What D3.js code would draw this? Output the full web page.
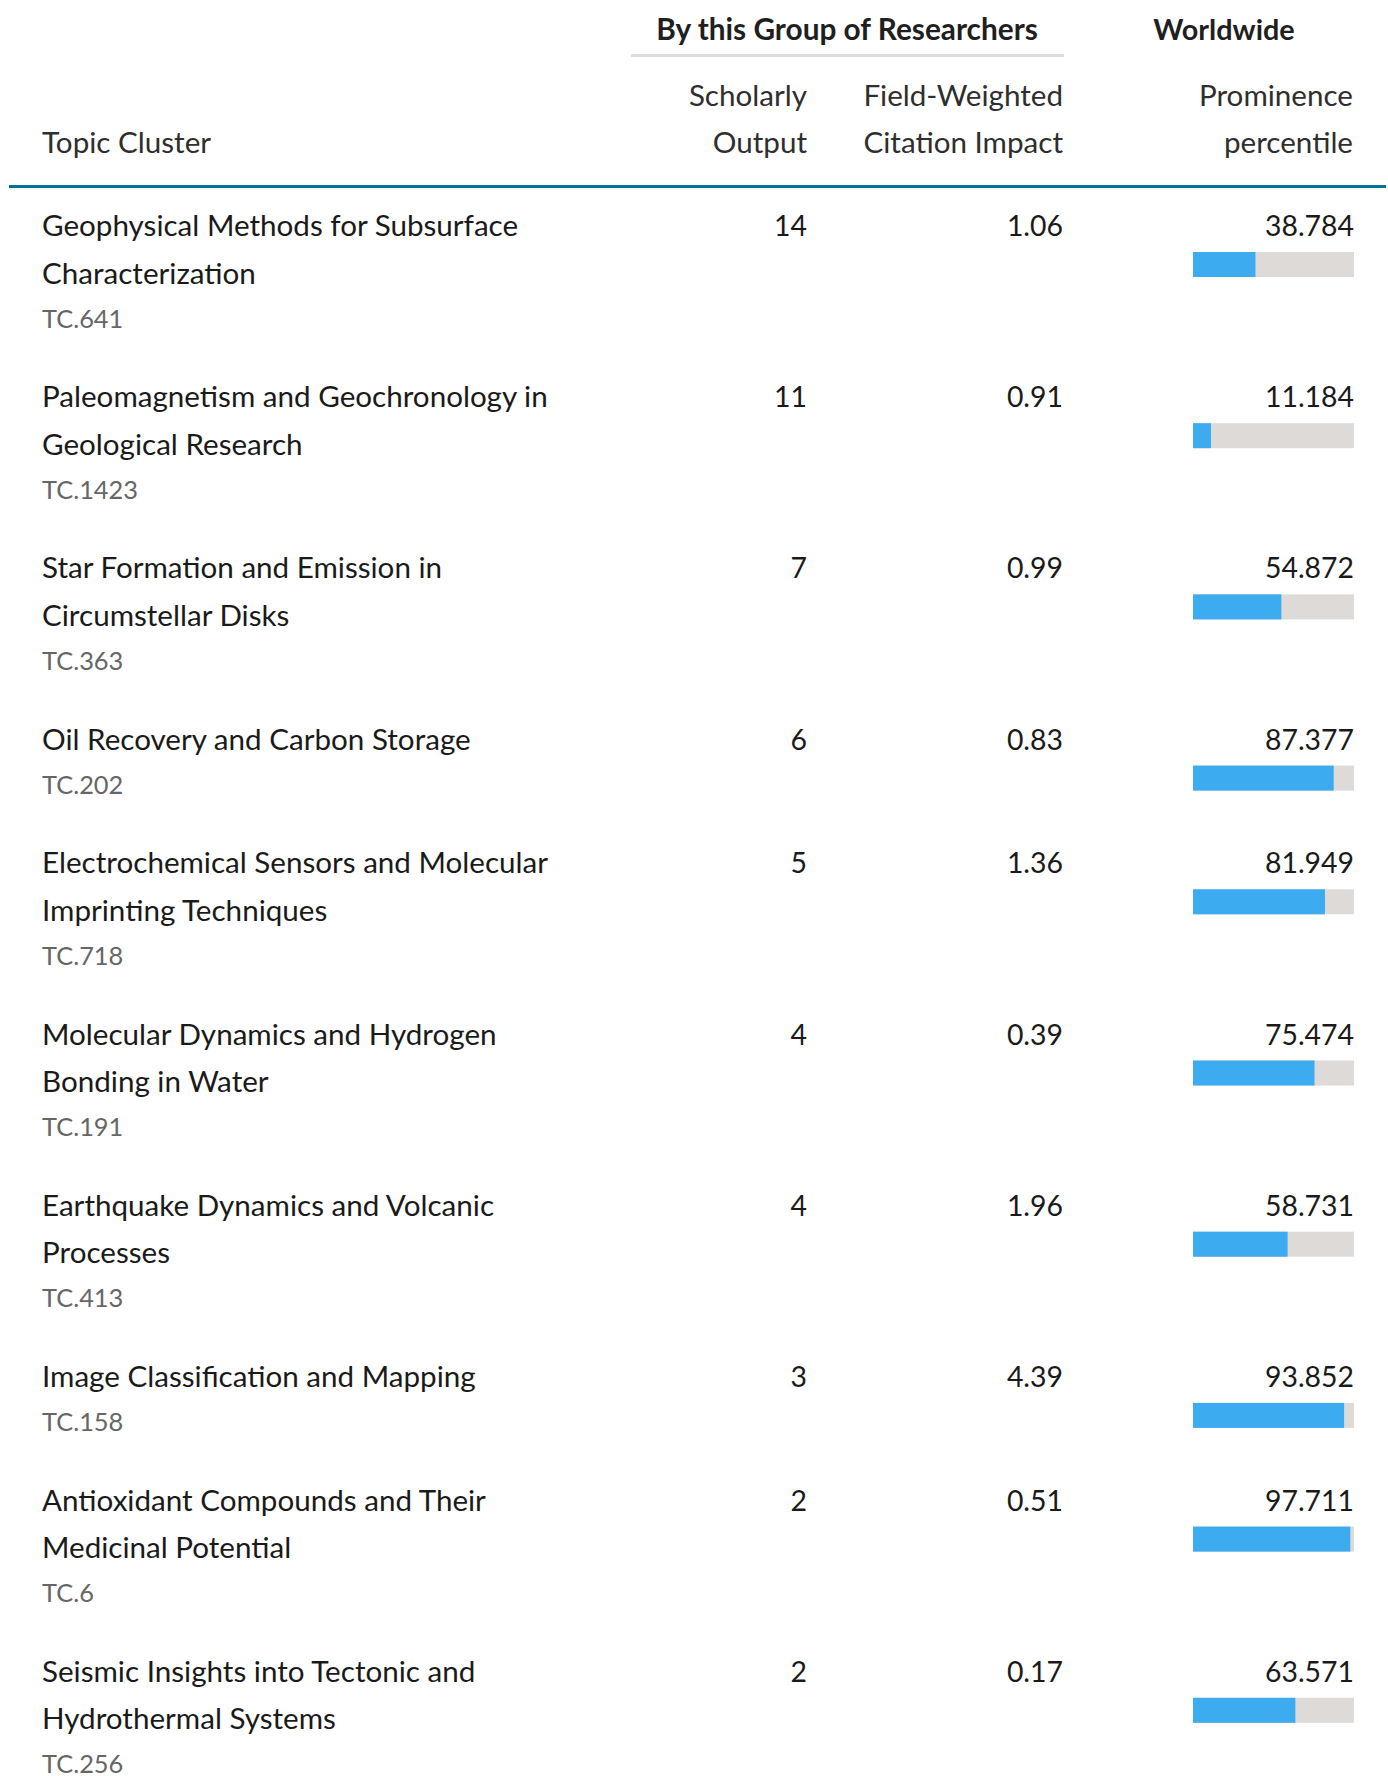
<!DOCTYPE html>
<html>
<head>
<meta charset="utf-8">
<script src="https://cdn.jsdelivr.net/npm/d3@7"></script>
<style>
  html, body { margin: 0; padding: 0; background: #fff; }
  svg { display: block; }
  text { font-family: Lato, "Open Sans", sans-serif; }
</style>
</head>
<body>
<svg id="chart" width="1388" height="1776"></svg>
<script>
const topics = [
  "Geophysical Methods for Subsurface Characterization",
  "Paleomagnetism and Geochronology in Geological Research",
  "Star Formation and Emission in Circumstellar Disks",
  "Oil Recovery and Carbon Storage",
  "Electrochemical Sensors and Molecular Imprinting Techniques",
  "Molecular Dynamics and Hydrogen Bonding in Water",
  "Earthquake Dynamics and Volcanic Processes",
  "Image Classification and Mapping",
  "Antioxidant Compounds and Their Medicinal Potential",
  "Seismic Insights into Tectonic and Hydrothermal Systems"
];
const tcCodes = ["TC.641", "TC.1423", "TC.363", "TC.202", "TC.718", "TC.191", "TC.413", "TC.158", "TC.6", "TC.256"];
const scholarlyOutput = [14, 11, 7, 6, 5, 4, 4, 3, 2, 2];
const fwci = [1.06, 0.91, 0.99, 0.83, 1.36, 0.39, 1.96, 4.39, 0.51, 0.17];
const percentile = [38.784, 11.184, 54.872, 87.377, 81.949, 75.474, 58.731, 93.852, 97.711, 63.571];

const groupHeader = "By this Group of Researchers";
const worldHeader = "Worldwide";
const colHeaders = {
  topic: ["Topic Cluster"],
  output: ["Scholarly", "Output"],
  fwci: ["Field-Weighted", "Citation Impact"],
  pct: ["Prominence", "percentile"]
};

const svg = d3.select("#chart");
const FS = 29.6, NFS = 28.4, TCFS = 25.4, HFS = 29.8, LH = 47.5;
const xTopic = 42, xOut = 807, xFwci = 1063, xPct = 1354;
const barX0 = 1193, barX1 = 1354, barH = 25;

// header
svg.append("text").attr("x", 847).attr("y", 40).attr("text-anchor", "middle")
  .attr("font-size", HFS).attr("font-weight", 700).attr("fill", "#1f1f1f").text(groupHeader);
svg.append("rect").attr("x", 631).attr("y", 54).attr("width", 433).attr("height", 3).attr("fill", "#dcdcdc");
svg.append("text").attr("x", 1224).attr("y", 40).attr("text-anchor", "middle")
  .attr("font-size", HFS - 1).attr("font-weight", 700).attr("fill", "#1f1f1f").text(worldHeader);

function headerLines(lines, x, anchor) {
  const start = 153 - (lines.length - 1) * LH;
  lines.forEach((l, i) => {
    svg.append("text").attr("x", x).attr("y", start + i * LH).attr("text-anchor", anchor)
      .attr("font-size", FS).attr("fill", "#2e2e2e").text(l);
  });
}
headerLines(colHeaders.topic, xTopic, "start");
headerLines(colHeaders.output, xOut, "end");
headerLines(colHeaders.fwci, xFwci, "end");
headerLines(colHeaders.pct, xPct - 1, "end");

svg.append("rect").attr("x", 9).attr("y", 185).attr("width", 1377).attr("height", 3).attr("fill", "#007398");

// wrap titles
const maxW = 535;
function wrap(str) {
  const words = str.split(" ");
  const t = svg.append("text").attr("font-size", FS).attr("x", -1000).attr("y", -1000);
  const lines = [];
  let cur = "";
  words.forEach(w => {
    const test = cur ? cur + " " + w : w;
    t.text(test);
    if (t.node().getComputedTextLength() > maxW && cur) { lines.push(cur); cur = w; }
    else cur = test;
  });
  if (cur) lines.push(cur);
  t.remove();
  return lines;
}

const xScale = d3.scaleLinear().domain([0, 100]).range([barX0, barX1]);
const fmt2 = d3.format(".2f"), fmt3 = d3.format(".3f");

let y = 236;
topics.forEach((topic, i) => {
  const lines = wrap(topic);
  const g = svg.append("g");
  lines.forEach((l, j) => {
    g.append("text").attr("x", xTopic).attr("y", y + j * LH).attr("font-size", FS)
      .attr("fill", "#1a1a1a").text(l);
  });
  g.append("text").attr("x", xTopic).attr("y", y + (lines.length - 1) * LH + 44)
    .attr("font-size", TCFS).attr("fill", "#666666").text(tcCodes[i]);
  g.append("text").attr("x", xOut).attr("y", y).attr("text-anchor", "end")
    .attr("font-size", NFS).attr("fill", "#1a1a1a").text(scholarlyOutput[i]);
  g.append("text").attr("x", xFwci).attr("y", y).attr("text-anchor", "end")
    .attr("font-size", NFS).attr("fill", "#1a1a1a").text(fmt2(fwci[i]));
  g.append("text").attr("x", xPct).attr("y", y).attr("text-anchor", "end")
    .attr("font-size", NFS).attr("fill", "#1a1a1a").text(fmt3(percentile[i]));
  g.append("rect").attr("x", xScale(0)).attr("y", y + 16).attr("width", xScale(100) - xScale(0))
    .attr("height", barH).attr("fill", "#dedad7");
  g.append("rect").attr("x", xScale(0)).attr("y", y + 16).attr("width", xScale(percentile[i]) - xScale(0))
    .attr("height", barH).attr("fill", "#3cabf0");
  y += 76.2 + LH * lines.length;
});
</script>
</body>
</html>
